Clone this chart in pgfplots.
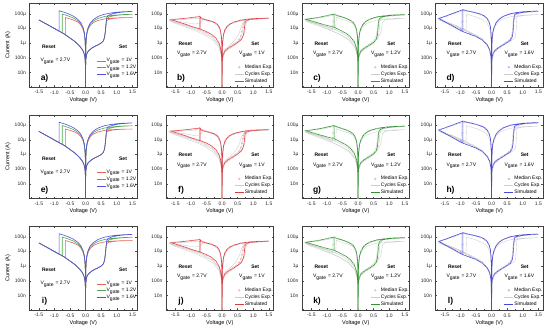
\documentclass[border=0pt]{standalone}
\usepackage{pgfplots}
\usepackage{pgfplotstable}
\pgfplotsset{compat=1.18}
\usepackage{fontspec}
\setmainfont{Liberation Sans}

\definecolor{redA}{RGB}{232,96,88}
\definecolor{greenA}{RGB}{80,170,80}
\definecolor{blueA}{RGB}{80,80,225}
\definecolor{redS}{RGB}{222,58,66}
\definecolor{greenS}{RGB}{50,150,50}
\definecolor{blueS}{RGB}{70,70,215}
\definecolor{redM}{RGB}{245,160,160}
\definecolor{greenM}{RGB}{160,212,160}
\definecolor{blueM}{RGB}{165,165,240}
\definecolor{cyc}{RGB}{205,205,205}

\pgfplotstableread{
V I
0 1e-10
0.003 3e-8
0.01 8e-8
0.03 1.6e-7
0.06 2.3e-7
0.1 3e-7
0.2 4.5e-7
0.3 6e-7
0.4 7.5e-7
0.5 1e-6
0.57 1.4e-6
0.61 2.5e-6
0.64 8e-6
0.66 2.2e-5
0.68 3.4e-5
0.75 4.2e-5
0.9 4.8e-5
1.1 5.2e-5
1.3 5.4e-5
1.5 5.5e-5
1.2 5.4e-5
1.0 5.2e-5
0.8 4.9e-5
0.6 4.4e-5
0.4 3.5e-5
0.25 2.5e-5
0.15 1.6e-5
0.08 8.5e-6
0.04 4e-6
0.02 1.7e-6
0.01 7e-7
0.003 1.8e-7
0 1e-10
-0.003 1.8e-7
-0.01 7e-7
-0.02 1.7e-6
-0.04 4e-6
-0.08 8.5e-6
-0.15 1.7e-5
-0.25 2.7e-5
-0.4 3.8e-5
-0.55 4.8e-5
-0.65 5.5e-5
-0.65 3.8e-6
-0.85 6.5e-6
-1.0 9.7e-6
-1.2 1.7e-5
-1.4 2.9e-5
-1.5 3.8e-5
-1.3 2.2e-5
-1.1 1.3e-5
-0.85 6.5e-6
-0.65 3.8e-6
-0.5 2.2e-6
-0.35 1.3e-6
-0.2 6.5e-7
-0.1 3.5e-7
-0.05 2e-7
-0.02 1e-7
-0.005 3e-8
0 1e-10
}\simRa
\pgfplotstableread{
V I
0 1e-10
0.003 3e-8
0.01 8e-8
0.03 1.6e-7
0.06 2.3e-7
0.1 3e-7
0.2 4.5e-7
0.3 6e-7
0.4 7.5e-7
0.5 1e-6
0.57 1.4e-6
0.61 2.5e-6
0.64 8e-6
0.66 2.4e-5
0.68 4.5e-5
0.75 6e-5
0.9 7.2e-5
1.1 8.2e-5
1.3 8.8e-5
1.5 9.2e-5
1.2 8.8e-5
1.0 8.3e-5
0.8 7.5e-5
0.6 6.4e-5
0.4 4.8e-5
0.25 3.2e-5
0.15 1.9e-5
0.08 9.8e-6
0.04 4.5e-6
0.02 1.9e-6
0.01 7.5e-7
0.003 1.9e-7
0 1e-10
-0.003 1.9e-7
-0.01 7.5e-7
-0.02 1.9e-6
-0.04 4.5e-6
-0.08 9.8e-6
-0.15 2e-5
-0.25 3.3e-5
-0.4 5.2e-5
-0.55 7e-5
-0.65 8.2e-5
-0.75 9.5e-5
-0.75 5e-6
-0.85 6.5e-6
-1.0 9.7e-6
-1.2 1.7e-5
-1.4 2.9e-5
-1.5 3.8e-5
-1.3 2.2e-5
-1.1 1.3e-5
-0.85 6.5e-6
-0.75 5e-6
-0.5 2.2e-6
-0.35 1.3e-6
-0.2 6.5e-7
-0.1 3.5e-7
-0.05 2e-7
-0.02 1e-7
-0.005 3e-8
0 1e-10
}\simGa
\pgfplotstableread{
V I
0 1e-10
0.003 3e-8
0.01 8e-8
0.03 1.6e-7
0.06 2.3e-7
0.1 3e-7
0.2 4.5e-7
0.3 6e-7
0.4 7.5e-7
0.5 1e-6
0.57 1.4e-6
0.61 2.5e-6
0.64 8e-6
0.66 2.5e-5
0.68 5.5e-5
0.72 7.5e-5
0.8 9e-5
1.0 1.15e-4
1.2 1.3e-4
1.5 1.45e-4
1.2 1.37e-4
1.0 1.27e-4
0.8 1.12e-4
0.6 9.2e-5
0.4 6.5e-5
0.25 4e-5
0.15 2.3e-5
0.08 1.15e-5
0.04 5.2e-6
0.02 2.1e-6
0.01 8.2e-7
0.003 2.1e-7
0 1e-10
-0.003 2.1e-7
-0.01 8.2e-7
-0.02 2.1e-6
-0.04 5.2e-6
-0.08 1.15e-5
-0.15 2.4e-5
-0.25 4.2e-5
-0.4 7e-5
-0.55 9.8e-5
-0.7 1.28e-4
-0.85 1.6e-4
-0.85 6.5e-6
-1.0 9.7e-6
-1.2 1.7e-5
-1.4 2.9e-5
-1.5 3.8e-5
-1.3 2.2e-5
-1.1 1.3e-5
-0.85 6.5e-6
-0.7 4.4e-6
-0.5 2.2e-6
-0.35 1.3e-6
-0.2 6.5e-7
-0.1 3.5e-7
-0.05 2e-7
-0.02 1e-7
-0.005 3e-8
0 1e-10
}\simBa

\pgfplotstableread{
V I
0 1e-10
0.005 4e-8
0.02 1.2e-7
0.05 2e-7
0.1 3e-7
0.2 4.5e-7
0.3 6e-7
0.4 8e-7
0.5 1.1e-6
0.6 1.6e-6
0.66 2.5e-6
0.7 5e-6
0.72 1.2e-5
0.74 2.5e-5
0.78 3.5e-5
0.9 4.1e-5
1.1 4.5e-5
1.3 4.8e-5
1.5 5e-5
1.2 4.8e-5
1.0 4.6e-5
0.8 4.2e-5
0.6 3.6e-5
0.4 2.8e-5
0.25 2e-5
0.15 1.3e-5
0.08 7e-6
0.04 3.3e-6
0.02 1.4e-6
0.01 5.5e-7
0.003 1.4e-7
0 1e-10
-0.003 2.5e-7
-0.01 1e-6
-0.02 2.5e-6
-0.04 5.5e-6
-0.08 1.1e-5
-0.15 1.9e-5
-0.25 2.6e-5
-0.4 3.3e-5
-0.55 3.9e-5
-0.66 4.5e-5
-0.71 6.4e-5
-0.71 9e-6
-0.71 6.4e-5
-0.9 5.8e-5
-1.1 5.1e-5
-1.3 4.6e-5
-1.5 4.2e-5
-1.64 4e-5
-1.4 2.7e-5
-1.2 2e-5
-1.0 1.4e-5
-0.71 9e-6
-0.5 6e-6
-0.35 4e-6
-0.2 2.2e-6
-0.1 1e-6
-0.05 4.5e-7
-0.02 1.5e-7
-0.005 4e-8
0 1e-10
}\simRb
\pgfplotstableread{
V I
0 1e-10
0.01 1e-7
0.1 3.5e-7
0.3 7e-7
0.5 1.4e-6
0.6 2.5e-6
0.65 6e-6
0.7 2e-5
0.76 3.5e-5
1.0 4.4e-5
1.5 4.9e-5
1.0 4.5e-5
0.6 3.5e-5
0.3 2.2e-5
0.15 1.2e-5
0.05 4e-6
0.01 5e-7
0 1e-10
-0.01 8e-7
-0.05 7e-6
-0.15 1.8e-5
-0.3 2.8e-5
-0.5 3.7e-5
-0.65 4.8e-5
-0.8 4.8e-5
-1.0 4.4e-5
-1.3 4e-5
-1.7 3.6e-5
-1.5 2.4e-5
-1.2 1.5e-5
-0.9 9e-6
-0.6 5e-6
-0.3 2.2e-6
-0.1 7e-7
-0.02 1.5e-7
0 1e-10
}\cycRb
\pgfplotstableread{
V I
0 1e-10
0.01 1.2e-7
0.1 4e-7
0.3 9e-7
0.45 2e-6
0.55 5e-6
0.62 1.5e-5
0.7 3e-5
1.0 4.3e-5
1.5 4.8e-5
1.0 4.4e-5
0.6 3.4e-5
0.3 2.1e-5
0.15 1.1e-5
0.05 3.8e-6
0.01 4.5e-7
0 1e-10
-0.01 7e-7
-0.05 6e-6
-0.15 1.6e-5
-0.3 2.6e-5
-0.5 3.5e-5
-0.6 4.2e-5
-0.65 3e-5
-0.7 2.2e-5
-0.9 2e-5
-1.2 2.6e-5
-1.7 3.8e-5
-1.5 2.7e-5
-1.2 1.7e-5
-0.9 1.1e-5
-0.6 6e-6
-0.3 2.5e-6
-0.1 8e-7
-0.02 1.8e-7
0 1e-10
}\cycRc
\pgfplotstableread{
V I
0 1e-10
0.01 8e-8
0.1 2.5e-7
0.3 5e-7
0.5 1e-6
0.6 1.8e-6
0.7 3.5e-6
0.75 8e-6
0.78 2.5e-5
0.85 3.8e-5
1.5 5e-5
1.0 4.7e-5
0.6 3.7e-5
0.3 2.3e-5
0.15 1.35e-5
0.05 4.5e-6
0.01 6e-7
0 1e-10
-0.01 9e-7
-0.05 7.5e-6
-0.15 2e-5
-0.3 3e-5
-0.5 4e-5
-0.7 5.8e-5
-0.72 8e-6
-0.9 1.1e-5
-1.2 1.8e-5
-1.7 3.4e-5
-1.5 2.2e-5
-1.2 1.3e-5
-0.9 7.5e-6
-0.6 4e-6
-0.3 1.6e-6
-0.1 5e-7
-0.02 1.2e-7
0 1e-10
}\cycRd
\pgfplotstableread{
V I
0.05 2e-7
0.15 3.5e-7
0.25 5e-7
0.35 7e-7
0.45 1e-6
0.55 1.7e-6
0.6 3e-6
0.63 6e-6
0.66 1.2e-5
0.68 2e-5
0.72 3e-5
0.8 3.8e-5
1.0 4.4e-5
1.2 4.7e-5
1.45 4.9e-5
0.9 4.4e-5
0.6 3.6e-5
0.35 2.5e-5
0.2 1.6e-5
0.1 8.5e-6
-0.1 1.3e-5
-0.2 2.2e-5
-0.35 3e-5
-0.5 3.7e-5
-0.6 4.4e-5
-0.66 5e-5
-0.7 3e-5
-0.72 1.5e-5
-0.85 5.5e-5
-1.0 5e-5
-1.3 4.4e-5
-1.6 4e-5
-1.4 2.6e-5
-1.1 1.6e-5
-0.8 1e-5
-0.5 5.5e-6
-0.3 3e-6
-0.15 1.4e-6
}\medR

\pgfplotstableread{
V I
0 1e-10
0.005 4e-8
0.02 1.2e-7
0.05 2e-7
0.1 3e-7
0.2 4.5e-7
0.3 6e-7
0.4 8e-7
0.5 1.1e-6
0.58 1.8e-6
0.62 3.5e-6
0.64 1e-5
0.66 3e-5
0.7 5e-5
0.8 6.3e-5
1.0 7.3e-5
1.2 8e-5
1.5 8.6e-5
1.2 8.3e-5
1.0 7.8e-5
0.8 7e-5
0.6 6e-5
0.4 4.5e-5
0.25 3e-5
0.15 1.8e-5
0.08 9e-6
0.04 4e-6
0.02 1.6e-6
0.01 6e-7
0.003 1.5e-7
0 1e-10
-0.003 2.5e-7
-0.01 1.1e-6
-0.02 2.8e-6
-0.04 6.5e-6
-0.08 1.4e-5
-0.15 2.5e-5
-0.25 3.6e-5
-0.4 5e-5
-0.55 6.3e-5
-0.7 8e-5
-0.77 9.5e-5
-0.77 1.2e-5
-0.77 9.5e-5
-1.0 7.5e-5
-1.2 6e-5
-1.45 4.9e-5
-1.68 4.2e-5
-1.45 3e-5
-1.2 2.1e-5
-1.0 1.6e-5
-0.77 1.2e-5
-0.6 8e-6
-0.4 4.8e-6
-0.25 2.8e-6
-0.12 1.2e-6
-0.05 4.5e-7
-0.02 1.5e-7
-0.005 4e-8
0 1e-10
}\simGb
\pgfplotstableread{
V I
0 1e-10
0.01 1e-7
0.1 3.5e-7
0.3 7e-7
0.5 1.4e-6
0.58 3e-6
0.62 1e-5
0.66 4e-5
0.75 5.8e-5
1.0 7e-5
1.5 8.3e-5
1.0 7.5e-5
0.6 5.6e-5
0.3 3.4e-5
0.15 1.7e-5
0.05 5.5e-6
0.01 6e-7
0 1e-10
-0.01 9e-7
-0.05 8e-6
-0.15 2.3e-5
-0.3 3.9e-5
-0.5 5.7e-5
-0.75 8.5e-5
-0.9 7e-5
-1.1 5.8e-5
-1.4 4.8e-5
-1.7 4.1e-5
-1.5 2.8e-5
-1.2 1.8e-5
-0.9 1.1e-5
-0.6 6e-6
-0.3 2.5e-6
-0.1 8e-7
-0.02 1.5e-7
0 1e-10
}\cycGb
\pgfplotstableread{
V I
0 1e-10
0.01 8e-8
0.1 2.8e-7
0.3 6e-7
0.5 1.1e-6
0.62 2e-6
0.67 5e-6
0.7 3e-5
0.78 6e-5
1.0 7.4e-5
1.5 8.8e-5
1.0 8e-5
0.6 6.2e-5
0.3 3.8e-5
0.15 1.9e-5
0.05 6e-6
0.01 6.5e-7
0 1e-10
-0.01 1e-6
-0.05 8.5e-6
-0.15 2.4e-5
-0.3 4e-5
-0.5 6e-5
-0.8 9.5e-5
-0.82 8e-6
-1.0 1.2e-5
-1.3 2.1e-5
-1.7 3.8e-5
-1.5 2.5e-5
-1.2 1.5e-5
-0.9 8e-6
-0.6 4e-6
-0.3 1.8e-6
-0.1 5.5e-7
-0.02 1.3e-7
0 1e-10
}\cycGc
\pgfplotstableread{
V I
0.05 2e-7
0.15 3.5e-7
0.25 5e-7
0.35 7e-7
0.45 1e-6
0.55 1.6e-6
0.6 3e-6
0.63 8e-6
0.65 2e-5
0.68 3.8e-5
0.75 5.5e-5
0.9 6.6e-5
1.1 7.5e-5
1.3 8.1e-5
1.45 8.5e-5
0.9 7.3e-5
0.6 5.8e-5
0.35 4e-5
0.2 2.4e-5
0.1 1.1e-5
-0.1 1.6e-5
-0.2 2.9e-5
-0.35 4.4e-5
-0.5 5.8e-5
-0.65 7.2e-5
-0.75 8.8e-5
-0.78 3e-5
-0.8 1.4e-5
-1.0 7.3e-5
-1.3 5.3e-5
-1.6 4.4e-5
-1.4 2.8e-5
-1.1 1.8e-5
-0.8 1.2e-5
-0.5 6e-6
-0.3 3.2e-6
-0.15 1.5e-6
}\medG

\pgfplotstableread{
V I
0 1e-10
0.005 4e-8
0.02 1.2e-7
0.05 2e-7
0.1 3e-7
0.2 4.5e-7
0.3 6e-7
0.4 8e-7
0.5 1.1e-6
0.6 1.5e-6
0.66 2.5e-6
0.69 6e-6
0.71 3e-5
0.73 8e-5
0.8 1.05e-4
1.0 1.25e-4
1.2 1.4e-4
1.5 1.5e-4
1.2 1.45e-4
1.0 1.35e-4
0.8 1.2e-4
0.6 1e-4
0.4 7e-5
0.25 4.3e-5
0.15 2.5e-5
0.08 1.2e-5
0.04 5.5e-6
0.02 2.2e-6
0.01 8.5e-7
0.003 2e-7
0 1e-10
-0.003 5e-7
-0.01 2.2e-6
-0.02 5.5e-6
-0.04 1.3e-5
-0.08 2.8e-5
-0.15 5e-5
-0.25 7.5e-5
-0.4 1e-4
-0.6 1.3e-4
-0.8 1.6e-4
-0.92 1.9e-4
-0.92 6e-6
-0.92 1.9e-4
-1.1 1.37e-4
-1.3 9.5e-5
-1.5 6.6e-5
-1.69 4.7e-5
-1.5 2.8e-5
-1.3 1.66e-5
-1.1 9.7e-6
-0.92 6e-6
-0.7 4e-6
-0.5 2.8e-6
-0.3 1.6e-6
-0.15 8e-7
-0.06 3.5e-7
-0.02 1.2e-7
-0.005 3e-8
0 1e-10
}\simBb
\pgfplotstableread{
V I
0 1e-10
0.01 1e-7
0.1 3.5e-7
0.3 7e-7
0.5 1.3e-6
0.62 2.2e-6
0.67 6e-6
0.7 4e-5
0.76 9e-5
1.0 1.2e-4
1.5 1.45e-4
1.0 1.3e-4
0.6 9.5e-5
0.3 5.5e-5
0.15 2.6e-5
0.05 7.5e-6
0.01 8e-7
0 1e-10
-0.01 1.8e-6
-0.05 1.6e-5
-0.15 4.5e-5
-0.3 8e-5
-0.5 1.1e-4
-0.7 1.4e-4
-0.9 1.6e-4
-1.1 1.2e-4
-1.4 7.5e-5
-1.7 5e-5
-1.5 3.2e-5
-1.2 1.7e-5
-0.9 9e-6
-0.6 4.5e-6
-0.3 2e-6
-0.1 6e-7
-0.02 1.5e-7
0 1e-10
}\cycBb
\pgfplotstableread{
V I
0 1e-10
0.01 7e-8
0.1 2.5e-7
0.3 5.5e-7
0.5 1e-6
0.7 1.8e-6
0.76 2.5e-6
0.79 8e-6
0.81 5e-5
0.86 1e-4
1.0 1.22e-4
1.5 1.5e-4
1.0 1.32e-4
0.6 9.8e-5
0.3 5.8e-5
0.15 2.8e-5
0.05 8e-6
0.01 8.5e-7
0 1e-10
-0.01 2e-6
-0.05 1.8e-5
-0.15 4.8e-5
-0.3 8.5e-5
-0.5 1.15e-4
-0.7 1.45e-4
-0.95 1.75e-4
-0.97 6e-6
-1.1 8.5e-6
-1.3 1.5e-5
-1.7 4.6e-5
-1.5 2.9e-5
-1.2 1.5e-5
-0.9 7.5e-6
-0.6 4e-6
-0.3 1.8e-6
-0.1 5e-7
-0.02 1.3e-7
0 1e-10
}\cycBc
\pgfplotstableread{
V I
0.05 2e-7
0.15 3.5e-7
0.25 5e-7
0.35 7e-7
0.45 1e-6
0.55 1.4e-6
0.62 2.2e-6
0.67 5e-6
0.7 2e-5
0.72 5e-5
0.78 9e-5
0.9 1.12e-4
1.1 1.3e-4
1.3 1.42e-4
1.45 1.48e-4
0.9 1.25e-4
0.6 9.8e-5
0.35 6.2e-5
0.2 3.5e-5
0.1 1.5e-5
-0.1 3.5e-5
-0.2 6e-5
-0.35 9e-5
-0.5 1.15e-4
-0.65 1.4e-4
-0.8 1.65e-4
-0.9 1.8e-4
-0.93 3e-5
-0.95 8e-6
-1.2 1.1e-4
-1.45 7e-5
-1.65 5e-5
-1.3 1.8e-5
-1.0 9e-6
-0.7 4.5e-6
-0.5 2.9e-6
-0.3 1.7e-6
-0.15 8e-7
}\medB

\pgfplotsset{
  ivpanel/.style={
    scale only axis, width=107.5pt, height=83.5pt, anchor=south west,
    xmin=-1.8, xmax=1.65, ymin=1e-9, ymax=5e-4,
    xtick={-1.5,-1,-0.5,0,0.5,1,1.5},
    xticklabels={-1.5,-1.0,-0.5,0.0,0.5,1.0,1.5},
    minor xtick={-1.75,-1.25,-0.75,-0.25,0.25,0.75,1.25},
    ytick={1e-8,1e-7,1e-6,1e-5,1e-4},
    yticklabels={10n,100n,1μ,10μ,100μ},
    yminorticks=false,
    tick label style={font=\fontsize{5}{5}\selectfont, text=black!85},
    major tick length=1.6pt, minor tick length=1pt,
    tick style={black!70, line width=0.35pt},
    tick align=inside,
    axis line style={black!75, line width=0.45pt},
    xlabel={Voltage (V)},
    xlabel style={font=\fontsize{5.5}{6}\selectfont, at={(axis description cs:0.5,0)}, anchor=center, yshift=-13pt},
    legend cell align=left,
    legend style={draw=none, fill=none, font=\fontsize{5}{5}\selectfont, inner sep=0pt, outer sep=0pt, row sep=0.2pt, nodes={inner sep=0.8pt}},
  },
  ivylab/.style={ylabel={Current (A)}, ylabel style={font=\fontsize{5.5}{6}\selectfont, at={(axis description cs:-0.2,0.5)}, anchor=center}},
}
\pgfplotsset{legend image code/.code={\draw[mark repeat=2,mark phase=2,#1] plot coordinates {(0pt,0pt) (4.5pt,0pt) (9pt,0pt)};}}

\newcommand{\annot}[4]{% #1 label, #2 reset y, #3 gate y, #4 set x
  \node[font=\bfseries\fontsize{5}{5}\selectfont] at (rel axis cs:0.18,#2) {Reset};
  \node[font=\bfseries\fontsize{5}{5}\selectfont] at (rel axis cs:#4,#2) {Set};
  \node[font=\fontsize{5}{5}\selectfont, anchor=west] at (rel axis cs:0.07,#3) {V\textsubscript{gate} = 2.7V};
  \node[font=\bfseries\fontsize{8.5}{8.5}\selectfont] at (rel axis cs:0.14,0.1) {#1};
}
\newcommand{\gatelab}[1]{\node[font=\fontsize{5}{5}\selectfont, anchor=east] at (rel axis cs:0.95,0.39) {V\textsubscript{gate} = #1};}

\newcommand{\panelA}[1]{%
  \addplot[redA, line width=0.6pt] table {\simRa};
  \addplot[greenA, line width=0.6pt] table {\simGa};
  \addplot[blueA, line width=0.6pt] table {\simBa};
  \addlegendentry{V\textsubscript{gate} = 1V}
  \addlegendentry{V\textsubscript{gate} = 1.2V}
  \addlegendentry{V\textsubscript{gate} = 1.6V}
  \annot{#1}{0.48}{0.31}{0.87}
}
\newcommand{\panelX}[7]{%
  \addplot[cyc, line width=0.35pt, forget plot] table {#4};
  \addplot[cyc, line width=0.35pt, forget plot] table {#5};
  \addplot[cyc, line width=0.35pt, forget plot] table {#6};
  \addplot[only marks, mark=o, mark size=0.7pt, #7M, line width=0.3pt, forget plot] table {#3};
  \addplot[#7S, line width=0.6pt, forget plot] table {#2};
  \addlegendimage{only marks, mark=o, mark size=0.9pt, #7M, line width=0.4pt}
  \addlegendentry{Median Exp.}
  \addlegendimage{cyc, line width=0.5pt}
  \addlegendentry{Cycles Exp.}
  \addlegendimage{#7S, line width=0.6pt}
  \addlegendentry{Simulated}
  \annot{#1}{0.52}{0.39}{0.83}
}

\newcommand{\figrow}[5]{%
  \begin{semilogyaxis}[ivpanel, ivylab, at={(29.5pt,#1)}, legend style={at={(rel axis cs:1.0,0.11)}, anchor=south east}]
    \panelA{#2}
  \end{semilogyaxis}
  \begin{semilogyaxis}[ivpanel, at={(166pt,#1)}, legend style={at={(rel axis cs:1.0,0.03)}, anchor=south east}]
    \panelX{#3}{\simRb}{\medR}{\cycRb}{\cycRc}{\cycRd}{red}
    \gatelab{1V}
  \end{semilogyaxis}
  \begin{semilogyaxis}[ivpanel, at={(302pt,#1)}, legend style={at={(rel axis cs:1.0,0.03)}, anchor=south east}]
    \panelX{#4}{\simGb}{\medG}{\cycGb}{\cycGc}{\cycRd}{green}
    \gatelab{1.2V}
  \end{semilogyaxis}
  \begin{semilogyaxis}[ivpanel, at={(435.5pt,#1)}, legend style={at={(rel axis cs:1.0,0.03)}, anchor=south east}]
    \panelX{#5}{\simBb}{\medB}{\cycBb}{\cycBc}{\cycGc}{blue}
    \gatelab{1.6V}
  \end{semilogyaxis}
}

\begin{document}
\begin{tikzpicture}
\useasboundingbox (0pt,0pt) rectangle (550pt,331pt);
\figrow{244pt}{a)}{b)}{c)}{d)}
\figrow{132.5pt}{e)}{f)}{g)}{h)}
\figrow{21pt}{i)}{j)}{k)}{l)}
\end{tikzpicture}
\end{document}
